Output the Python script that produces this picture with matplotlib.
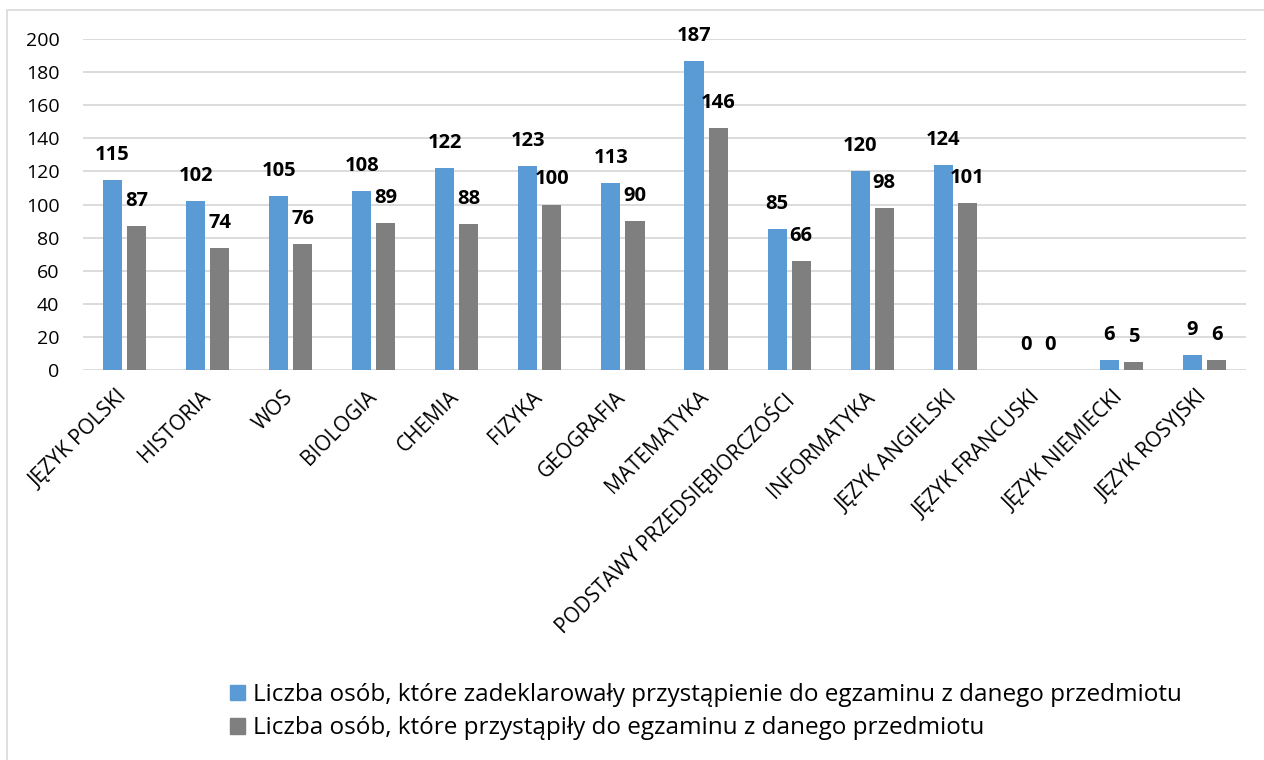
import matplotlib.pyplot as plt
import matplotlib.patches as mpatches
import matplotlib.transforms as mtransforms
import numpy as np

plt.rcParams['font.family'] = ['Open Sans', 'DejaVu Sans']

subjects = ['JĘZYK POLSKI', 'HISTORIA', 'WOS', 'BIOLOGIA', 'CHEMIA', 'FIZYKA',
            'GEOGRAFIA', 'MATEMATYKA', 'PODSTAWY PRZEDSIĘBIORCZOŚCI', 'INFORMATYKA',
            'JĘZYK ANGIELSKI', 'JĘZYK FRANCUSKI', 'JĘZYK NIEMIECKI', 'JĘZYK ROSYJSKI']
declared = [115, 102, 105, 108, 122, 123, 113, 187, 85, 120, 124, 0, 6, 9]
took = [87, 74, 76, 89, 88, 100, 90, 146, 66, 98, 101, 0, 5, 6]
labels = ['Liczba osób, które zadeklarowały przystąpienie do egzaminu z danego przedmiotu',
          'Liczba osób, które przystąpiły do egzaminu z danego przedmiotu']

blue = '#5B9BD5'
grey = '#7F7F7F'

fig = plt.figure(figsize=(12.64, 7.6), dpi=100)
# outer chart border
fig.patches.append(mpatches.Rectangle((7 / 1264, -0.1), 1.2, (750 / 760) + 0.1,
                                      transform=fig.transFigure, fill=False,
                                      edgecolor='#D9D9D9', linewidth=1.2))

ax = fig.add_axes([83 / 1264, 1 - 370 / 760, 1163 / 1264, 331 / 760])
x = np.arange(len(subjects))
w = 0.23
off = 0.145
b1 = ax.bar(x - off, declared, w, color=blue, label=labels[0], zorder=3)
b2 = ax.bar(x + off, took, w, color=grey, label=labels[1], zorder=3)

for bars, vals in ((b1, declared), (b2, took)):
    for r, v in zip(bars, vals):
        ax.annotate(str(v), (r.get_x() + r.get_width() / 2, v), xytext=(0, 18),
                    textcoords='offset points', ha='center', va='center',
                    fontsize=14.5, fontweight='bold', color='black')

ax.set_xlim(-0.5, len(subjects) - 0.5)
ax.set_ylim(0, 200)
ax.set_yticks(range(0, 201, 20))
ax.grid(axis='y', color='#D9D9D9', linewidth=1.3, zorder=0)
for s in ax.spines.values():
    s.set_visible(False)
ax.tick_params(axis='both', length=0)
ax.tick_params(axis='y', pad=17, labelsize=14)
ax.set_xticks(x)
ax.set_xticklabels(subjects, rotation=45, ha='right', va='top',
                   rotation_mode='anchor', fontsize=15)
ax.tick_params(axis='x', pad=12)
shift = mtransforms.ScaledTranslation(-8 / 100, 0, fig.dpi_scale_trans)
for t in ax.get_xticklabels():
    t.set_transform(t.get_transform() + shift)

handles = [mpatches.Patch(color=blue), mpatches.Patch(color=grey)]
fig.legend(handles, labels, loc='upper left', bbox_to_anchor=(230 / 1264, 1 - 683 / 760),
           frameon=False, fontsize=17.5, handlelength=0.62, handleheight=0.62,
           handletextpad=0.33, labelspacing=0.38, borderpad=0, borderaxespad=0)

fig.savefig('out.png', dpi=100)
